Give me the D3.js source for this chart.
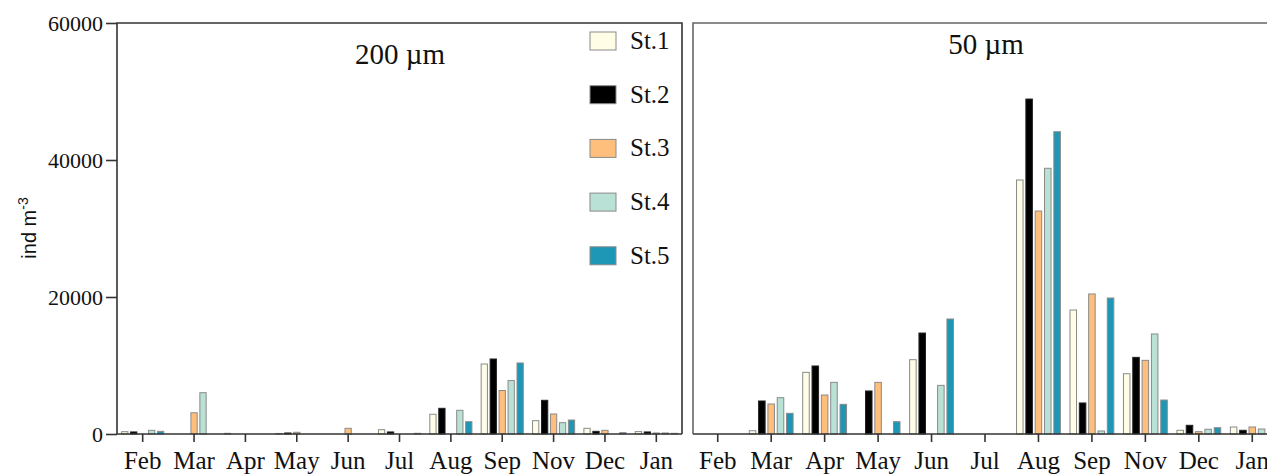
<!DOCTYPE html>
<html>
<head>
<meta charset="utf-8">
<script src="https://cdn.jsdelivr.net/npm/d3@7"></script>
<style>
  body { margin: 0; background: #fff; }
  svg { display: block; }
</style>
</head>
<body>
<svg id="chart"></svg>
<script>
var WIDTH = 1267;
var HEIGHT = 474;

var months = ['Feb', 'Mar', 'Apr', 'May', 'Jun', 'Jul', 'Aug', 'Sep', 'Nov', 'Dec', 'Jan'];
var stations = ['St.1', 'St.2', 'St.3', 'St.4', 'St.5'];
var colors = ['#fffde6', '#000000', '#fdbf7b', '#b9e1d5', '#1d97b5'];
var yTicks = [0, 20000, 40000, 60000];

// 200 um, one array per station, values by month
var mesh200 = [
  [340, 0, 100, 80, 0, 630, 2880, 10220, 1950, 830, 350],
  [300, 0, 0, 150, 0, 300, 3750, 10950, 4920, 390, 300],
  [0, 3100, 0, 250, 830, 0, 0, 6350, 2920, 540, 150],
  [540, 6030, 0, 0, 0, 0, 3460, 7800, 1650, 0, 150],
  [390, 0, 0, 0, 0, 100, 1800, 10370, 2040, 200, 100]
];

// 50 um
var mesh50 = [
  [0, 480, 9000, 0, 10850, 0, 37080, 18100, 8800, 540, 1020],
  [0, 4820, 9930, 6280, 14740, 0, 48900, 4530, 11190, 1270, 540],
  [0, 4380, 5690, 7540, 0, 0, 32550, 20440, 10750, 340, 1020],
  [0, 5300, 7540, 0, 7100, 0, 38790, 440, 14600, 690, 730],
  [0, 3020, 4330, 1800, 16790, 0, 44130, 19850, 4960, 920, 500]
];

var svg = d3.select('#chart')
  .attr('width', WIDTH)
  .attr('height', HEIGHT);

var TOP = 23, BOTTOM = 434;

var yScale = d3.scaleLinear()
  .domain([0, 60000])
  .range([BOTTOM, TOP]);

function drawPanel(data, x0, x1, frameX, title, titleX, titleY, showY) {
  var xScale = d3.scaleBand()
    .domain(months)
    .range([x0, x1])
    .padding(0);

  var bw = xScale.bandwidth();
  var g = bw * 0.82;
  var sub = d3.scaleBand()
    .domain(stations)
    .range([-g / 2, g / 2])
    .paddingInner(0.3)
    .paddingOuter(0);

  var panel = svg.append('g');

  // bars
  stations.forEach(function(st, si) {
    panel.append('g').selectAll('rect')
      .data(data[si].map(function(v, i) { return { m: months[i], v: v }; }).filter(function(d) { return d.v > 0; }))
      .enter()
      .append('rect')
      .attr('x', function(d) { return xScale(d.m) + bw / 2 + sub(st); })
      .attr('width', sub.bandwidth())
      .attr('y', function(d) { return yScale(d.v); })
      .attr('height', function(d) { return BOTTOM - yScale(d.v); })
      .attr('fill', colors[si])
      .attr('stroke', si == 1 ? '#222' : '#8a8a8a')
      .attr('stroke-width', 1);
  });

  // frame
  panel.append('path')
    .attr('d', 'M' + frameX + ',' + BOTTOM + 'V' + TOP + 'H' + x1 + 'V' + BOTTOM)
    .attr('fill', 'none')
    .attr('stroke', showY ? '#333' : '#666')
    .attr('stroke-width', 1.6);

  // x axis
  var xAxis = panel.append('g')
    .attr('transform', 'translate(0,' + BOTTOM + ')')
    .call(d3.axisBottom(xScale).tickSize(8).tickSizeOuter(0).tickPadding(9));
  xAxis.select('.domain')
    .attr('d', 'M' + frameX + ',0H' + x1)
    .attr('stroke', '#333')
    .attr('stroke-width', 1.6);
  xAxis.selectAll('.tick line').attr('stroke', '#333').attr('stroke-width', 1.6);
  xAxis.selectAll('.tick text')
    .attr('font-family', '"Liberation Serif", "Times New Roman", serif')
    .attr('font-size', 25)
    .attr('fill', '#111');

  if (showY) {
    var yAxis = panel.append('g')
      .attr('transform', 'translate(' + frameX + ',0)')
      .call(d3.axisLeft(yScale).tickValues(yTicks).tickFormat(d3.format('d')).tickSize(11).tickSizeOuter(0).tickPadding(3));
    yAxis.select('.domain').remove();
    yAxis.selectAll('.tick line').attr('stroke', '#333').attr('stroke-width', 1.6);
    yAxis.selectAll('.tick text')
      .attr('font-family', '"Liberation Serif", "Times New Roman", serif')
      .attr('font-size', 22)
      .attr('fill', '#111');
  }

  panel.append('text')
    .attr('x', titleX)
    .attr('y', titleY)
    .attr('text-anchor', 'middle')
    .attr('font-family', '"Liberation Serif", "Times New Roman", serif')
    .attr('font-size', 29)
    .attr('fill', '#111')
    .text(title);
}

drawPanel(mesh200, 117, 682, 117, '200 \u00b5m', 400, 64, true);
drawPanel(mesh50, 691, 1279, 693, '50 \u00b5m', 986, 54, false);

// y label
svg.append('text')
  .attr('transform', 'translate(36,228) rotate(-90)')
  .attr('text-anchor', 'middle')
  .attr('font-family', '"Liberation Sans", Arial, sans-serif')
  .attr('font-size', 20)
  .attr('fill', '#111')
  .html('ind m<tspan dy="-8" font-size="14">-3</tspan>');

// legend
var legend = svg.append('g');
stations.forEach(function(st, i) {
  var ly = 41 + i * 53.7;
  legend.append('rect')
    .attr('x', 590)
    .attr('y', ly - 9)
    .attr('width', 26)
    .attr('height', 18)
    .attr('fill', colors[i])
    .attr('stroke', '#8a8a8a')
    .attr('stroke-width', 1);
  legend.append('text')
    .attr('x', 630)
    .attr('y', ly + 8)
    .attr('font-family', '"Liberation Serif", "Times New Roman", serif')
    .attr('font-size', 25)
    .attr('fill', '#111')
    .text(st);
});
</script>
</body>
</html>
